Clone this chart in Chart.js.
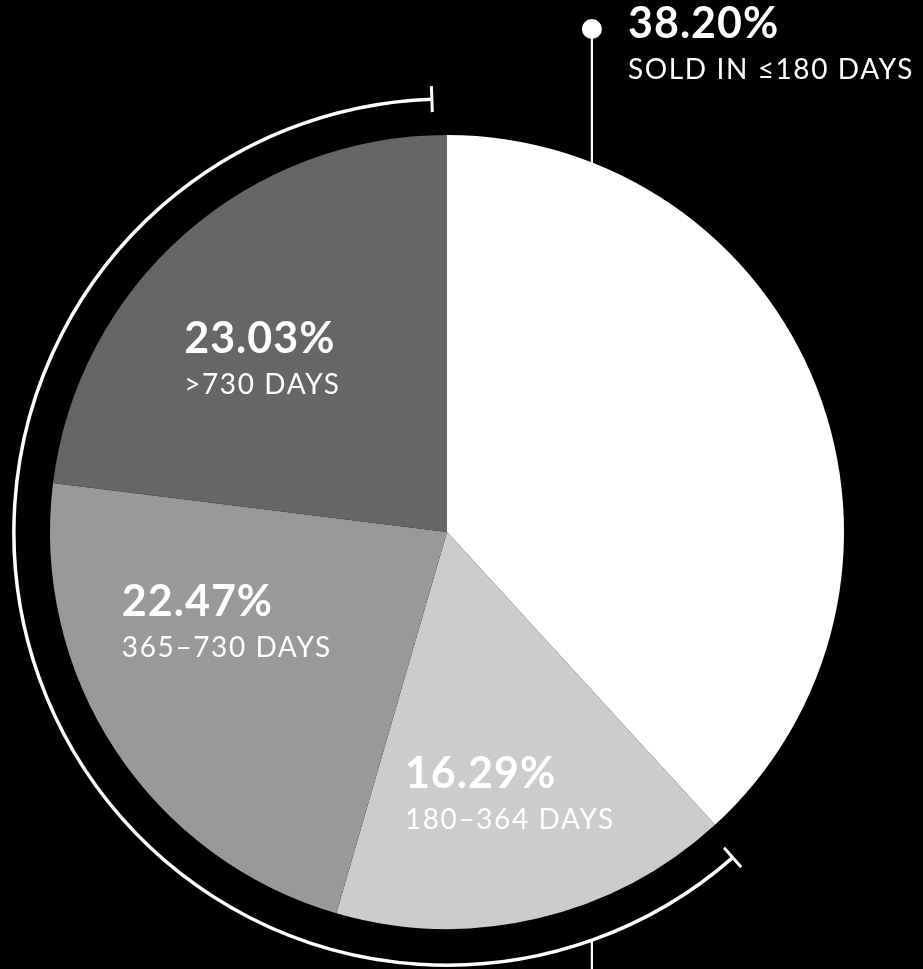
<!DOCTYPE html>
<html>
<head>
<meta charset="utf-8">
<title>Days on market</title>
<script src="https://cdn.jsdelivr.net/npm/chart.js@4"></script>
<style>
  html, body { margin: 0; padding: 0; background: #000; }
  canvas { display: block; }
</style>
</head>
<body>
<canvas id="chart" width="923" height="969"></canvas>
<script>
// Share of listings by time to sale
const categories = ['SOLD IN ≤180 DAYS', '180–364 DAYS', '365–730 DAYS', '>730 DAYS'];
const shares = [38.20, 16.29, 22.47, 23.03];
const sliceColors = ['#ffffff', '#cccccc', '#999999', '#666666'];

// Label block anchors (left edge, first baseline) as multiples of the pie radius from its centre
const labelAnchors = [[0.456, -1.244], [-0.106, 0.645], [-0.819, 0.212], [-0.662, -0.451]];

const fmt = v => v.toFixed(2) + '%';

const background = {
  id: 'background',
  beforeDraw(chart) {
    const ctx = chart.ctx;
    ctx.save();
    ctx.fillStyle = '#000';
    ctx.fillRect(0, 0, chart.width, chart.height);
    ctx.restore();
  }
};

const annotations = {
  id: 'annotations',
  afterDatasetsDraw(chart) {
    const ctx = chart.ctx;
    const arcs = chart.getDatasetMeta(0).data;
    const cx = arcs[0].x, cy = arcs[0].y, R = arcs[0].outerRadius;

    // Bracket arc spanning everything sold after 180 days
    const ringR = R * 1.091;
    const a0 = arcs[1].startAngle + 0.021;
    const a1 = arcs[arcs.length - 1].endAngle - 0.035;
    ctx.save();
    ctx.strokeStyle = '#fff';
    ctx.lineWidth = 3.5;
    ctx.lineCap = 'butt';
    ctx.beginPath();
    ctx.arc(cx, cy, ringR, a0, a1);
    ctx.stroke();
    ctx.lineWidth = 3;
    [a0, a1].forEach(a => {
      ctx.beginPath();
      ctx.moveTo(cx + Math.cos(a) * (ringR - 13), cy + Math.sin(a) * (ringR - 13));
      ctx.lineTo(cx + Math.cos(a) * (ringR + 13), cy + Math.sin(a) * (ringR + 13));
      ctx.stroke();
    });

    // Leader for the first slice: dot above the pie, line down to its edge
    const lx = cx + R * 0.365;
    const dotY = cy - R * 1.267;
    const dx = lx - cx;
    const edgeY = cy - Math.sqrt(R * R - dx * dx);
    ctx.lineWidth = 2.2;
    ctx.beginPath();
    ctx.moveTo(lx, dotY);
    ctx.lineTo(lx, edgeY + 2);
    ctx.stroke();
    ctx.fillStyle = '#fff';
    ctx.beginPath();
    ctx.arc(lx, dotY, 10, 0, Math.PI * 2);
    ctx.fill();

    // Leader below the bracket
    const ringY = cy + Math.sqrt(ringR * ringR - dx * dx);
    ctx.beginPath();
    ctx.moveTo(lx, ringY);
    ctx.lineTo(lx, chart.height);
    ctx.stroke();

    // Value and category labels
    ctx.fillStyle = '#fff';
    ctx.textAlign = 'left';
    ctx.textBaseline = 'alphabetic';
    shares.forEach((v, i) => {
      const x = cx + labelAnchors[i][0] * R;
      const y = cy + labelAnchors[i][1] * R;
      ctx.font = 'bold 43px Lato';
      ctx.letterSpacing = '1px';
      ctx.fillText(fmt(v), x, y);
      ctx.font = '28px Lato';
      ctx.letterSpacing = '1.6px';
      ctx.fillText(categories[i], x, y + 41);
    });
    ctx.restore();
  }
};

new Chart(document.getElementById('chart'), {
  type: 'pie',
  data: {
    labels: categories,
    datasets: [{
      data: shares,
      backgroundColor: sliceColors,
      borderWidth: 0
    }]
  },
  options: {
    responsive: false,
    animation: false,
    layout: { padding: { left: 50, right: 79, top: 135, bottom: 40 } },
    plugins: {
      legend: { display: false },
      tooltip: { enabled: false }
    }
  },
  plugins: [background, annotations]
});
</script>
</body>
</html>
